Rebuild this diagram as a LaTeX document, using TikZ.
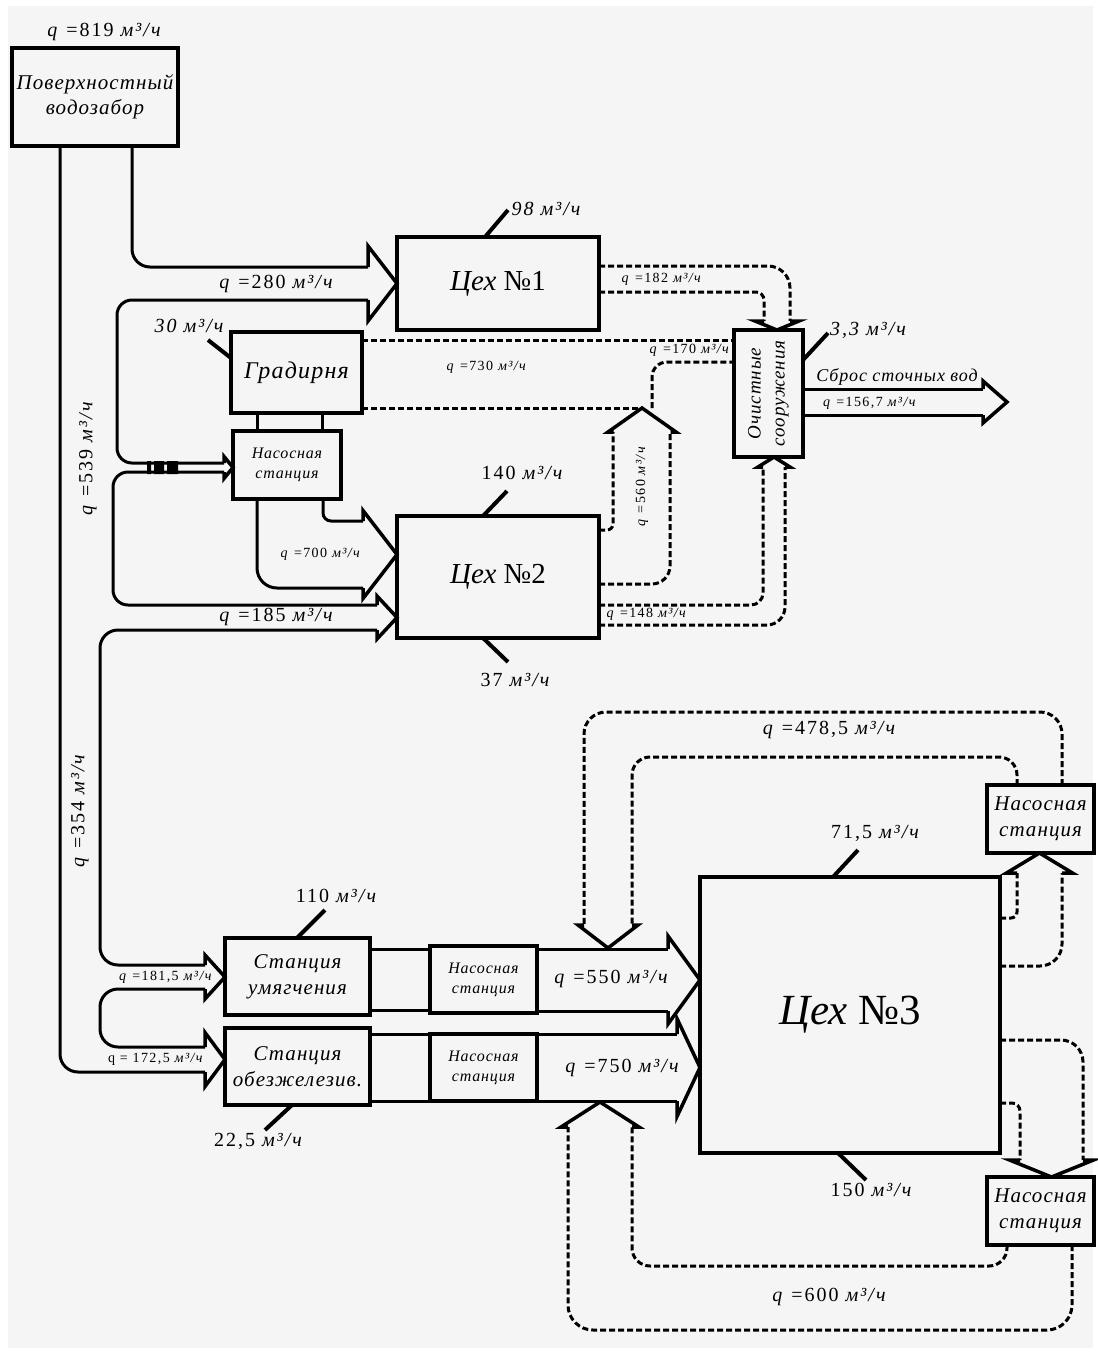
\documentclass[tikz,border=0pt]{standalone}
\usepackage{fontspec}
\setmainfont{Liberation Serif}
\newfontfamily\lblfont{Liberation Serif}[LetterSpace=10]
\newfontfamily\boxfont{Liberation Serif}[LetterSpace=5]
\usetikzlibrary{positioning,calc}

\definecolor{bg}{HTML}{F5F5F5}

\newcommand{\qflow}[1]{\textit{q} =#1 \textit{м³/ч}}

\tikzset{
  box/.style={rectangle, draw, line width=4pt, outer sep=0pt, inner sep=1pt, align=center},
  pipe/.style={line width=3pt, rounded corners=#1},
  pipe/.default=18pt,
  dpipe/.style={pipe=#1, dash pattern=on 6pt off 3pt},
  dpipe/.default=18pt,
  leader/.style={line width=4pt},
  flowlbl/.style={font=\lblfont\fontsize{20}{24}\selectfont, inner sep=1pt},
  smalllbl/.style={font=\lblfont\fontsize{14}{16}\selectfont, inner sep=1pt},
  pics/pipehead/.style args={#1/#2/#3}{code={
    \draw[line width=3.5pt, line join=miter] (-#1,#2) -- (-#1,#3) -- (0,0) -- (-#1,-#3) -- (-#1,-#2);
  }}
}

\begin{document}
\begin{tikzpicture}[x=1pt, y=-1pt]
        \useasboundingbox (0,0) rectangle (1098,1353);
        \fill[white] (0,0) rectangle (1098,1353);
        \fill[bg] (8,6) rectangle (1093,1348);

        %-----Entities-----

        % Surface intake
        \node[box, minimum width=166pt, minimum height=98pt, font=\boxfont\fontsize{21}{25}\selectfont\itshape] (intake) at (95,97) {Поверхностный\\водозабор};
        \node[flowlbl] (q819) at (105,32) {\qflow{819}};

        % Shop 1
        \node[box, minimum width=202pt, minimum height=93pt, font=\fontsize{29}{32}\selectfont] (shop1) at (498,283.5) {\textit{Цех} №1};

        % Cooling tower
        \node[box, minimum width=131pt, minimum height=81pt, font=\boxfont\fontsize{24}{28}\selectfont\itshape] (tower) at (296.5,372.5) {Градирня};

        % Pump station of the tower
        \node[box, minimum width=108pt, minimum height=68pt, font=\boxfont\fontsize{16}{20}\selectfont\itshape] (pump1) at (287,465) {Насосная\\станция};

        % Shop 2
        \node[box, minimum width=202pt, minimum height=122pt, font=\fontsize{29}{32}\selectfont] (shop2) at (498,577) {\textit{Цех} №2};

        % Treatment plant
        \node[box, minimum width=69pt, minimum height=127pt] (clean) at (768.5,393.5) {};
        \node[rotate=90, align=center, font=\boxfont\fontsize{19}{24}\selectfont\itshape] (cleantxt) at (clean) {Очистные\\сооружения};

        % Softening station
        \node[box, minimum width=145pt, minimum height=77pt, font=\boxfont\fontsize{21}{26}\selectfont\itshape] (soft) at (297.5,976.5) {Станция\\умягчения};

        % Pump station after softening
        \node[box, minimum width=107pt, minimum height=67pt, font=\boxfont\fontsize{16}{20}\selectfont\itshape] (pump2) at (483.5,979.5) {Насосная\\станция};

        % Iron removal station
        \node[box, minimum width=145pt, minimum height=77pt, font=\boxfont\fontsize{21}{26}\selectfont\itshape] (iron) at (297.5,1066.5) {Станция\\обезжелезив.};

        % Pump station after iron removal
        \node[box, minimum width=107pt, minimum height=67pt, font=\boxfont\fontsize{16}{20}\selectfont\itshape] (pump3) at (483.5,1067.5) {Насосная\\станция};

        % Shop 3
        \node[box, minimum width=300pt, minimum height=276pt, font=\fontsize{43}{48}\selectfont] (shop3) at (850,1015) {\textit{Цех} №3};

        % Recycling pump stations
        \node[box, minimum width=107pt, minimum height=68pt, font=\boxfont\fontsize{21}{26}\selectfont\itshape] (pump4) at (1040.5,819) {Насосная\\станция};
        \node[box, minimum width=107pt, minimum height=68pt, font=\boxfont\fontsize{21}{26}\selectfont\itshape] (pump5) at (1040.5,1211) {Насосная\\станция};

        %-----Losses-----
        \draw[leader] (shop1.north -| 485,0) -- (508,210);
        \node[flowlbl] (loss1) at (547,209) {\textit{98 м³/ч}};
        \draw[leader] (tower.west |- 0,358) -- (208,340);
        \node[flowlbl] (loss2) at (190,326) {\textit{30 м³/ч}};
        \draw[leader] (shop2.north -| 483,0) -- (507,491);
        \node[flowlbl] (loss3) at (523,473) {140 \textit{м³/ч}};
        \draw[leader] (shop2.south -| 483,0) -- (508,662);
        \node[flowlbl] (loss4) at (516,680) {37 \textit{м³/ч}};
        \draw[leader] (clean.east |- 0,360) -- (828,333);
        \node[flowlbl] (loss5) at (869,330) {\textit{3,3 м³/ч}};
        \draw[leader] (soft.north -| 297,0) -- (325,910);
        \node[flowlbl] (loss6) at (337,896) {110 \textit{м³/ч}};
        \draw[leader] (iron.south -| 292,0) -- (265,1130);
        \node[flowlbl] (loss7) at (259,1141) {22,5 \textit{м³/ч}};
        \draw[leader] (shop3.north -| 833,0) -- (858,850);
        \node[flowlbl] (loss8) at (876,833) {71,5 \textit{м³/ч}};
        \draw[leader] (shop3.south -| 838,0) -- (866,1180);
        \node[flowlbl] (loss9) at (872,1190) {150 \textit{м³/ч}};

        %-----Fresh water pipes-----

        % Intake to Shop 1
        \draw[pipe] (intake.south -| 132,0) -- (132,267) -- (368,267);
        \pic at (shop1.west) {pipehead=29/16.5/37.5};
        \node[flowlbl] (q280) at (277,284) {\qflow{280}};

        % Branch to the tower pump station
        \draw[pipe=15pt] (368,300) -- (117,300) -- (117,463) -- (224,463);
        \fill (147,461) rectangle (151,474) (154,461) rectangle (164,474) (167,461) rectangle (178,474);
        \pic at (pump1.west |- 0,467.5) {pipehead=9/4.5/11};

        % Branch to Shop 2
        \draw[pipe=15pt] (224,472) -- (113,472) -- (113,605) -- (377,605);
        \pic at (shop2.west |- 0,617.5) {pipehead=20/12.5/21.5};
        \node[flowlbl] (q185) at (277,617) {\qflow{185}};

        % Branch to softening
        \draw[pipe] (377,630) -- (100,630) -- (100,965) -- (205,965);
        \pic at (soft.west |- 0,977) {pipehead=20/12/22};
        \node[smalllbl] (q1815) at (166,977) {\qflow{181,5}};

        % Branch to iron removal
        \draw[pipe] (205,989) -- (100,989) -- (100,1047) -- (205,1047);
        \pic at (iron.west |- 0,1059.5) {pipehead=20/12.5/27};
        \node[smalllbl] (q1725) at (156,1059) {q = 172,5 \textit{м³/ч}};
        \draw[pipe] (205,1072) -- (60,1072) -- (intake.south -| 60,0);

        \node[flowlbl, rotate=90] (q539) at (88,458) {\qflow{539}};
        \node[flowlbl, rotate=90] (q354) at (80,810) {\qflow{354}};

        % Tower to its pump station
        \draw[pipe] (tower.south -| 257,0) -- (pump1.north -| 257,0);
        \draw[pipe] (tower.south -| 322,0) -- (pump1.north -| 322,0);

        % Pump station to Shop 2
        \draw[pipe=8pt] (pump1.south -| 323,0) -- (323,521) -- (363,521);
        \draw[pipe=20pt] (pump1.south -| 257,0) -- (257,588) -- (363,588);
        \pic at (shop2.west |- 0,554.5) {pipehead=34/33.5/44};
        \node[smalllbl] (q700) at (321,554) {\qflow{700}};

        %-----Waste water pipes-----

        % Shop 1 to treatment
        \draw[dpipe=22pt] (shop1.east |- 0,266) -- (790,266) -- (790,321);
        \draw[dpipe=8pt] (shop1.east |- 0,292) -- (764,292) -- (764,321);
        \pic[rotate=-90] at (clean.north -| 777,0) {pipehead=9/13/22};
        \node[smalllbl] (q182) at (662,279) {\qflow{182}};

        % Tower to treatment
        \coordinate (junction) at (642,408);
        \draw[dpipe] (tower.east |- 0,340) -- (clean.west |- 0,340);
        \draw[dpipe] (tower.east |- 0,408) -- (junction);
        \draw[dpipe=15pt] (652,408) -- (652,362) -- (clean.west |- 0,362);
        \node[smalllbl] (q730) at (487,367) {\qflow{730}};
        \node[smalllbl] (q170) at (690,350) {\qflow{170}};

        % Shop 2 up to the tower line
        \draw[dpipe=6pt] (shop2.east |- 0,530) -- (613,530) -- (613,432);
        \draw[dpipe] (shop2.east |- 0,584) -- (670,584) -- (670,432);
        \pic[rotate=90] at (junction) {pipehead=24/28.5/34};
        \node[smalllbl, rotate=90] (q560) at (642,486) {\qflow{560}};

        % Shop 2 to treatment
        \draw[dpipe=12pt] (shop2.east |- 0,605) -- (763,605) -- (763,467);
        \draw[dpipe] (shop2.east |- 0,625) -- (785,625) -- (785,467);
        \pic[rotate=90] at (clean.south -| 774,0) {pipehead=10/11/16};
        \node[smalllbl] (q148) at (647,614) {\qflow{148}};

        % Treatment to discharge
        \coordinate (outlet) at (1007,402);
        \draw[pipe] (clean.east |- 0,389) -- (983,389);
        \draw[pipe] (clean.east |- 0,415) -- (983,415);
        \pic at (outlet) {pipehead=24/13/21};
        \node[font=\boxfont\fontsize{18}{22}\selectfont\itshape] (drain) at (897,377) {Сброс сточных вод};
        \node[smalllbl] (q1567) at (870,403) {\qflow{156,7}};

        %-----Shop 3 supply-----

        % Softening line
        \draw[pipe] (soft.east |- 0,949) -- (pump2.west |- 0,949);
        \draw[pipe] (soft.east |- 0,1010) -- (pump2.west |- 0,1010);
        \draw[pipe] (pump2.east |- 0,949) -- (668,949);
        \draw[pipe] (pump2.east |- 0,1011) -- (668,1011);
        \pic at (shop3.west |- 0,980) {pipehead=32/31/44};
        \node[flowlbl] (q550) at (612,979) {\qflow{550}};

        % Iron removal line
        \draw[pipe] (iron.east |- 0,1034) -- (pump3.west |- 0,1034);
        \draw[pipe] (iron.east |- 0,1101) -- (pump3.west |- 0,1101);
        \draw[pipe] (pump3.east |- 0,1034) -- (677,1034);
        \draw[pipe] (pump3.east |- 0,1101) -- (677,1101);
        \pic at (shop3.west |- 0,1067.5) {pipehead=23/33.5/49};
        \node[flowlbl] (q750) at (623,1068) {\qflow{750}};

        %-----Recycling loops-----

        % Upper loop
        \coordinate (mix1) at (608,948);
        \draw[dpipe=22pt] (pump4.north -| 1062,0) -- (1062,712) -- (584,712) -- (584,925);
        \draw[dpipe] (pump4.north -| 1017,0) -- (1017,757) -- (632,757) -- (632,925);
        \pic[rotate=-90] at (mix1) {pipehead=23/24/30};
        \node[flowlbl] (q4785) at (830,730) {\qflow{478,5}};

        \draw[dpipe=6pt] (shop3.east |- 0,918) -- (1017,918) -- (1017,873);
        \draw[dpipe=22pt] (shop3.east |- 0,966) -- (1062,966) -- (1062,873);
        \pic[rotate=90] at (pump4.south -| 1039.5,0) {pipehead=20/22.5/33};

        % Lower loop
        \draw[dpipe=22pt] (shop3.east |- 0,1040) -- (1083,1040) -- (1083,1160);
        \draw[dpipe=8pt] (shop3.east |- 0,1103) -- (1020,1103) -- (1020,1160);
        \pic[rotate=-90] at (pump5.north -| 1051.5,0) {pipehead=17/31.5/42};

        \coordinate (mix2) at (600,1102);
        \draw[dpipe] (pump5.south -| 1007,0) -- (1007,1266) -- (632,1266) -- (632,1127);
        \draw[dpipe=25pt] (pump5.south -| 1072,0) -- (1072,1330) -- (568,1330) -- (568,1127);
        \pic[rotate=90] at (mix2) {pipehead=25/32/39};
        \node[flowlbl] (q600) at (830,1297) {\qflow{600}};

\end{tikzpicture}
\end{document}
